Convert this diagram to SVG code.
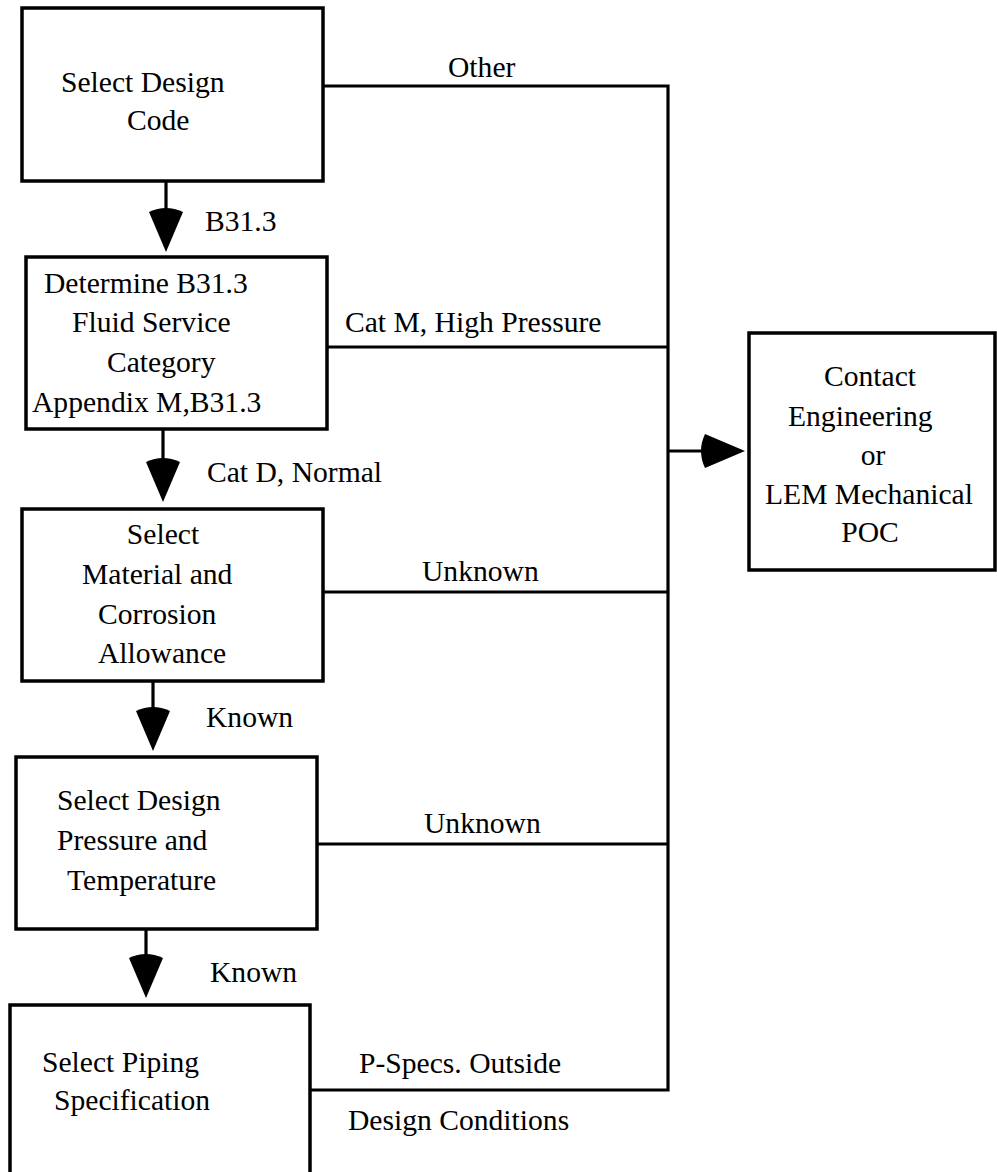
<svg xmlns="http://www.w3.org/2000/svg" xmlns:xlink="http://www.w3.org/1999/xlink" width="997" height="1172" viewBox="0 0 997 1172">
<style>
.box{fill:#fff;stroke:#000;stroke-width:3.5}
.ln{fill:none;stroke:#000;stroke-width:3.2}
text{font-family:"Liberation Serif","Times New Roman",serif;font-size:29.6px;fill:#000}
.m{text-anchor:middle}
</style>
<defs>
<path id="ah" d="M0,0 L-17,-40 Q0,-48 17,-40 Z" fill="#000"/>
</defs>
<rect width="997" height="1172" fill="#fff"/>
<g id="connectors">
<path class="ln" d="M323,86 H668 V1090 H310"/>
<path class="ln" d="M327,347 H668"/>
<path class="ln" d="M323,592 H668"/>
<path class="ln" d="M317,844 H668"/>
<path class="ln" d="M668,451 H708"/>
<path class="ln" d="M166,181 V212"/>
<path class="ln" d="M163,429 V462"/>
<path class="ln" d="M153,681 V711"/>
<path class="ln" d="M146,929 V960"/>
<use xlink:href="#ah" transform="translate(166,252)"/>
<use xlink:href="#ah" transform="translate(163,502)"/>
<use xlink:href="#ah" transform="translate(153,751)"/>
<use xlink:href="#ah" transform="translate(146,998)"/>
<use xlink:href="#ah" transform="translate(745,451) rotate(-90)"/>
<text x="448" y="77">Other</text>
<text x="205" y="231">B31.3</text>
<text x="345" y="332">Cat M, High Pressure</text>
<text x="207" y="482">Cat D, Normal</text>
<text x="422" y="581">Unknown</text>
<text x="206" y="727">Known</text>
<text x="424" y="833">Unknown</text>
<text x="210" y="982">Known</text>
<text x="359" y="1073">P-Specs. Outside</text>
<text x="348" y="1130">Design Conditions</text>
</g>
<g id="node-design-code">
<rect class="box" x="22" y="8" width="301" height="173"/>
<text x="61" y="92">Select Design</text>
<text x="127" y="130">Code</text>
</g>
<g id="node-fluid-service">
<rect class="box" x="26" y="257" width="301" height="172"/>
<text x="44" y="293">Determine B31.3</text>
<text x="72" y="332">Fluid Service</text>
<text x="107" y="372">Category</text>
<text x="32" y="412">Appendix M,B31.3</text>
</g>
<g id="node-material">
<rect class="box" x="22" y="509" width="301" height="172"/>
<text class="m" x="163" y="544">Select</text>
<text x="82" y="584">Material and</text>
<text x="98" y="624">Corrosion</text>
<text x="98" y="663">Allowance</text>
</g>
<g id="node-pressure-temp">
<rect class="box" x="16" y="757" width="301" height="172"/>
<text x="57" y="810">Select Design</text>
<text x="57" y="850">Pressure and</text>
<text x="67" y="890">Temperature</text>
</g>
<g id="node-piping-spec">
<rect class="box" x="10" y="1005" width="300" height="180"/>
<text x="42" y="1072">Select Piping</text>
<text x="54" y="1110">Specification</text>
</g>
<g id="node-contact">
<rect class="box" x="749" y="333" width="246" height="237"/>
<text class="m" x="870" y="386">Contact</text>
<text x="788" y="426">Engineering</text>
<text class="m" x="873" y="465">or</text>
<text x="765" y="504">LEM Mechanical</text>
<text class="m" x="870" y="542">POC</text>
</g>
</svg>
